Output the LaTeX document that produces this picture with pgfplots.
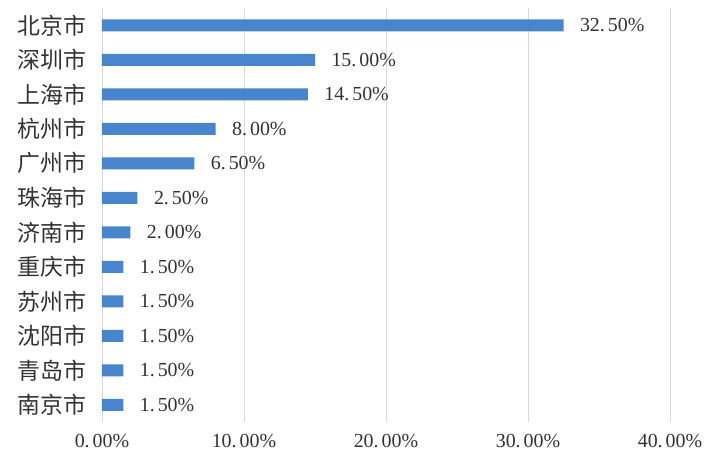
\documentclass[border=0pt]{standalone}
\usepackage{fontspec}
\setmainfont{Liberation Serif}
\newfontfamily\cjk{Noto Sans CJK SC}
\usepackage{pgfplots}
\pgfplotsset{compat=1.18}
\definecolor{barblue}{RGB}{72,133,204}
\definecolor{gridgray}{RGB}{217,217,217}

\begin{document}
\begin{tikzpicture}
\path[use as bounding box] (-102bp,-43bp) rectangle (605bp,422bp);
\begin{axis}[
    xbar,
    scale only axis,
    width=568bp, height=414bp,
    xmin=0, xmax=40,
    ymin=-0.5, ymax=11.5,
    y dir=reverse,
    bar width=12bp,
    axis lines*=left,
    x axis line style={draw=none},
    y axis line style={gridgray, line width=0.8pt},
    tick style={draw=none},
    xmajorgrids,
    grid style={gridgray, line width=0.8pt},
    xtick={0,10,20,30,40},
    xticklabels={0.\kern3bp 00\%, 10.\kern3bp 00\%, 20.\kern3bp 00\%, 30.\kern3bp 00\%, 40.\kern3bp 00\%},
    xticklabel style={font=\fontsize{20}{20}\selectfont, text=black!80, yshift=-9bp},
    ytick={0,1,2,3,4,5,6,7,8,9,10,11},
    yticklabels={北京市,深圳市,上海市,杭州市,广州市,珠海市,济南市,重庆市,苏州市,沈阳市,青岛市,南京市},
    yticklabel style={font=\cjk\fontsize{23}{23}\selectfont, text=black!80, xshift=-8bp},
    /pgf/number format/assume math mode=true,
    nodes near coords={\pgfmathprintnumber[fixed,fixed zerofill,precision=2,set decimal separator={.\kern3bp}]{\pgfplotspointmeta}\%},
    nodes near coords style={font=\fontsize{20}{20}\selectfont, text=black!80, xshift=13bp},
]
\addplot[fill=barblue, draw=none] coordinates {
    (32.5,0) (15.0,1) (14.5,2) (8.0,3) (6.5,4) (2.5,5)
    (2.0,6) (1.5,7) (1.5,8) (1.5,9) (1.5,10) (1.5,11)
};
\end{axis}
\end{tikzpicture}
\end{document}
